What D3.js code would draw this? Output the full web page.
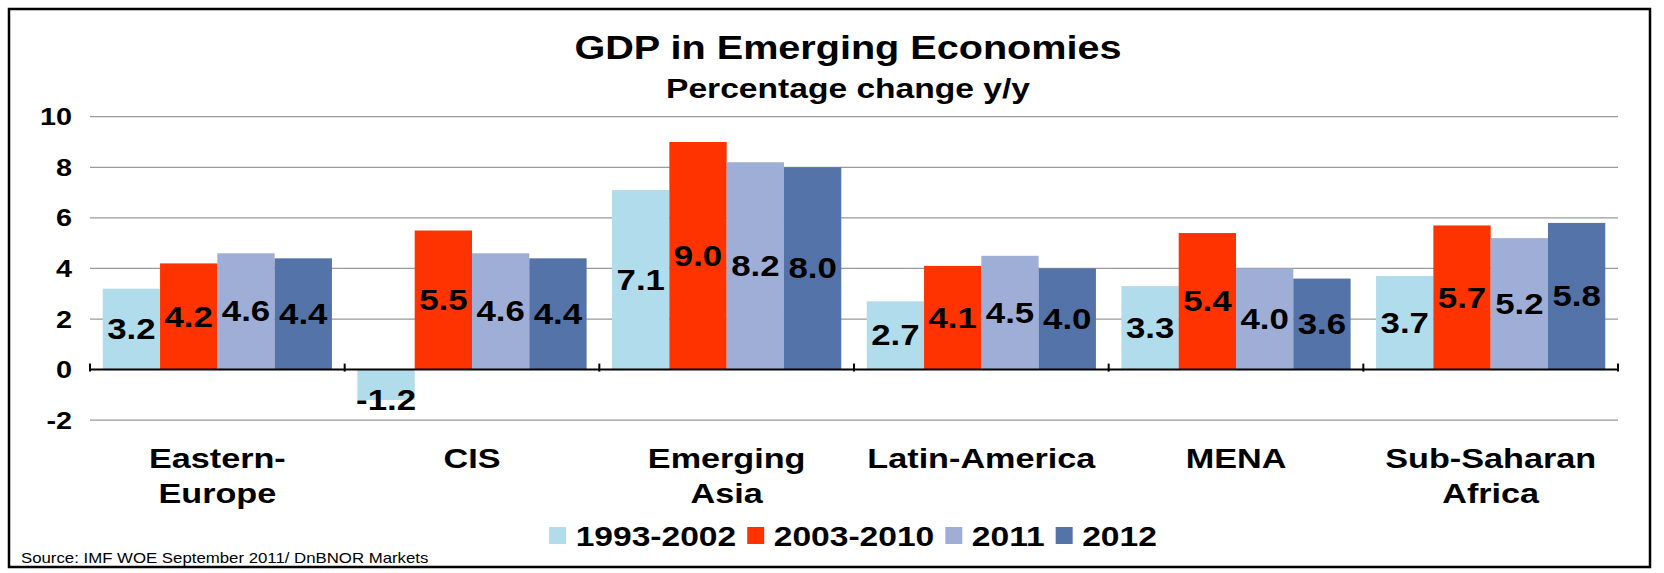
<!DOCTYPE html>
<html>
<head>
<meta charset="utf-8">
<script src="https://cdn.jsdelivr.net/npm/d3@7"></script>
<style>
  html, body { margin: 0; padding: 0; background: #fff; }
  text { font-family: "Liberation Sans", Arial, sans-serif; }
</style>
</head>
<body>
<svg id="chart" width="1664" height="573"></svg>
<script>
const categories = ["Eastern-Europe", "CIS", "Emerging Asia", "Latin-America", "MENA", "Sub-Saharan Africa"];
const categoryLines = [["Eastern-", "Europe"], ["CIS"], ["Emerging", "Asia"], ["Latin-America"], ["MENA"], ["Sub-Saharan", "Africa"]];
const seriesNames = ["1993-2002", "2003-2010", "2011", "2012"];
const s1993_2002 = [3.2, -1.2, 7.1, 2.7, 3.3, 3.7];
const s2003_2010 = [4.2, 5.5, 9.0, 4.1, 5.4, 5.7];
const s2011 = [4.6, 4.6, 8.2, 4.5, 4.0, 5.2];
const s2012 = [4.4, 4.4, 8.0, 4.0, 3.6, 5.8];
const yTicks = [-2, 0, 2, 4, 6, 8, 10];
const colors = ["#B0DCEB", "#FF3300", "#9FAED6", "#5473A9"];
const titleText = "GDP in Emerging Economies";
const subtitleText = "Percentage change y/y";
const sourceText = "Source: IMF WOE September 2011/ DnBNOR Markets";

const series = [s1993_2002, s2003_2010, s2011, s2012];
const SX = 1.2; // horizontal stretch of text as in reference

const svg = d3.select("#chart");
const plot = { left: 90, right: 1618, top: 116.7, bottom: 420.2 };

svg.append("rect").attr("x", 9).attr("y", 9).attr("width", 1641).attr("height", 558)
  .attr("fill", "#fff").attr("stroke", "#000").attr("stroke-width", 2.5);

function stext(g, x, y, str, size, anchor, weight) {
  return g.append("text")
    .attr("transform", `translate(${x},${y}) scale(${SX},1)`)
    .attr("text-anchor", anchor || "middle")
    .attr("font-size", size)
    .attr("font-weight", weight || "bold")
    .attr("fill", "#000")
    .text(str);
}

const x0 = d3.scaleBand().domain(categories).range([plot.left, plot.right]).padding(0);
const x1 = d3.scaleBand().domain(seriesNames).range([x0.bandwidth() * 0.05, x0.bandwidth() * 0.95]).padding(0);
const y = d3.scaleLinear().domain([-2, 10]).range([plot.bottom, plot.top]);

// title
const cx = (plot.left + plot.right) / 2 - 6;
stext(svg, cx, 59, titleText, 33);
stext(svg, cx, 98, subtitleText, 28);

// gridlines
svg.append("g").selectAll("line").data(yTicks.filter(t => t !== 0)).join("line")
  .attr("x1", plot.left).attr("x2", plot.right)
  .attr("y1", d => y(d)).attr("y2", d => y(d))
  .attr("stroke", "#9a9a9a").attr("stroke-width", 1.2);

// y tick labels
const yl = svg.append("g");
yTicks.forEach(t => stext(yl, 72, y(t) + 8.5, String(t), 24, "end"));

// bars
const groups = svg.append("g").selectAll("g").data(categories).join("g")
  .attr("transform", d => `translate(${x0(d)},0)`);
groups.each(function(cat, ci) {
  const g = d3.select(this);
  seriesNames.forEach((s, si) => {
    const v = series[si][ci];
    g.append("rect")
      .attr("x", x1(s)).attr("width", x1.bandwidth())
      .attr("y", Math.min(y(v), y(0))).attr("height", Math.abs(y(v) - y(0)))
      .attr("fill", colors[si]);
  });
});

// axis line at 0 with crossing ticks
const ax = svg.append("g");
ax.append("line").attr("x1", plot.left).attr("x2", plot.right).attr("y1", y(0)).attr("y2", y(0))
  .attr("stroke", "#000").attr("stroke-width", 2);
const bounds = categories.map(c => x0(c)).concat([plot.right]);
ax.selectAll("line.tk").data(bounds).join("line").attr("class", "tk")
  .attr("x1", d => d).attr("x2", d => d)
  .attr("y1", y(0) - 6).attr("y2", y(0) + 2)
  .attr("stroke", "#000").attr("stroke-width", 2);

// data labels
const lab = svg.append("g");
categories.forEach((cat, ci) => {
  seriesNames.forEach((s, si) => {
    const v = series[si][ci];
    const xc = x0(cat) + x1(s) + x1.bandwidth() / 2;
    const yc = v >= 0 ? (y(v) + y(0)) / 2 : y(v);
    stext(lab, xc, yc + 10, v.toFixed(1), 29);
  });
});

// category labels
const cl = svg.append("g");
categories.forEach((cat, ci) => {
  const xc = x0(cat) + x0.bandwidth() / 2;
  categoryLines[ci].forEach((ln, li) => stext(cl, xc, 468 + li * 35, ln, 28.5));
});

// legend
const lg = svg.append("g");
const items = [];
seriesNames.forEach((s, si) => {
  const it = lg.append("g");
  it.append("rect").attr("x", 0).attr("y", 527).attr("width", 17).attr("height", 17).attr("fill", colors[si]);
  const t = stext(it, 26.5, 546, s, 28, "start");
  const w = t.node().getComputedTextLength() * SX;
  items.push({ it, w: 26.5 + w });
});
const gap = 11;
const total = d3.sum(items, d => d.w) + gap * (items.length - 1);
let start = 853 - total / 2;
items.forEach(d => { d.it.attr("transform", `translate(${start},0)`); start += d.w + gap; });

// source
svg.append("text").attr("transform", `translate(21,563) scale(${SX},1)`)
  .attr("font-size", 14).attr("fill", "#000")
  .text(sourceText);
</script>
</body>
</html>
